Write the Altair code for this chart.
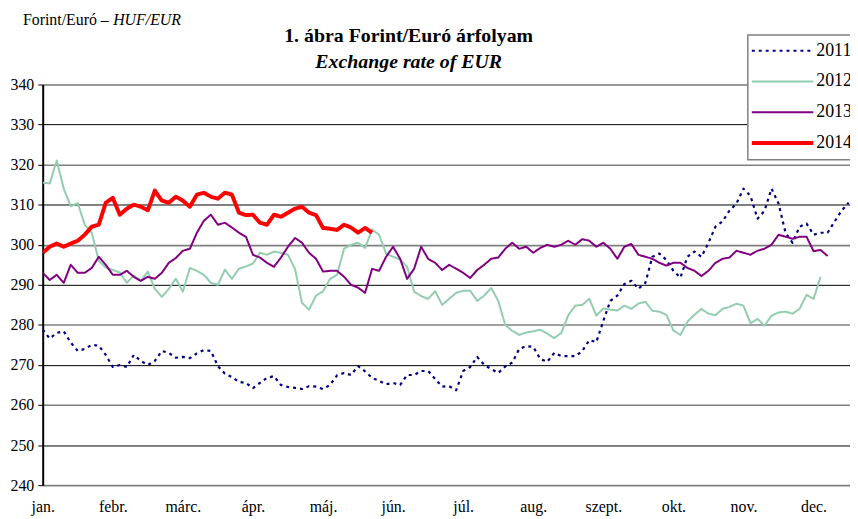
import json
import altair as alt
import pandas as pd

FONT = "Liberation Serif"

MONTHS = ["jan.", "febr.", "márc.", "ápr.", "máj.", "jún.", "júl.", "aug.",
          "szept.", "okt.", "nov.", "dec."]
STEP = 0.1  # months between samples
X_END = 11.52

eur_2011 = [278.8, 276.6, 278.0, 278.4, 275.6, 273.5, 274.0, 275.0, 274.8, 272.5,
            269.5, 270.0, 269.5, 272.5, 271.0, 270.0, 271.0, 273.5, 273.0, 271.8,
            272.0, 271.7, 272.9, 273.7, 273.5, 269.7, 267.8, 267.0, 265.8, 265.5,
            264.2, 265.5, 266.8, 267.2, 265.0, 264.5, 264.3, 264.0, 264.7, 264.6,
            264.0, 265.0, 267.4, 268.0, 267.5, 269.7, 268.4, 266.8, 266.0, 265.2,
            265.5, 265.0, 267.5, 267.5, 268.5, 268.5, 266.5, 264.6, 264.7, 263.7,
            268.5, 269.5, 272.0, 270.0, 269.0, 268.0, 269.6, 270.6, 274.0, 274.7,
            274.5, 271.5, 270.8, 273.0, 272.2, 272.2, 272.2, 273.5, 276.2, 275.7,
            281.0, 286.0, 287.3, 290.2, 291.0, 289.0, 290.5, 297.0, 297.8, 296.2,
            293.5, 291.8, 297.0, 298.3, 297.0, 300.5, 304.5, 305.8, 308.5, 310.3,
            314.0, 312.2, 306.5, 308.5, 314.0, 310.3, 303.0, 300.5, 304.5, 305.3,
            302.5, 303.0, 303.0, 305.8, 308.5, 310.5]

eur_2012 = [315.5, 315.3, 321.0, 314.0, 309.6, 310.4, 305.0, 303.0, 296.0, 294.3,
            293.7, 293.1, 290.5, 292.3, 291.0, 293.3, 289.0, 287.0, 289.0, 291.5,
            288.3, 294.2, 293.5, 292.5, 290.5, 290.0, 293.8, 291.5, 294.0, 294.6,
            295.3, 298.0, 297.5, 298.3, 298.0, 297.5, 294.0, 285.5, 283.8, 287.3,
            288.4, 291.5, 292.5, 299.0, 300.0, 300.5, 299.2, 303.8, 302.5, 297.8,
            297.0, 296.3, 294.5, 288.3, 287.2, 286.5, 288.4, 285.0, 286.5, 288.0,
            288.5, 288.5, 286.0, 287.3, 289.2, 286.0, 280.0, 278.5, 277.5, 278.1,
            278.4, 278.8, 277.8, 276.7, 278.0, 282.4, 284.8, 285.0, 286.5, 282.3,
            284.1, 283.8, 283.6, 284.8, 284.0, 285.3, 285.8, 283.5, 283.3, 282.5,
            278.6, 277.5, 280.8, 282.5, 284.0, 282.8, 282.4, 284.0, 284.5, 285.3,
            284.8, 280.4, 281.5, 279.8, 282.3, 283.1, 283.3, 282.8, 284.0, 287.5,
            286.5, 292.0]

eur_2013 = [293.0, 291.2, 292.5, 290.5, 295.0, 293.0, 293.0, 294.2, 297.0, 295.0,
            292.5, 292.5, 293.5, 292.0, 291.0, 292.0, 291.5, 293.0, 295.5, 296.7,
            298.5, 299.0, 303.0, 306.0, 307.5, 305.0, 305.5, 304.3, 303.0, 302.0,
            297.5, 296.8, 295.5, 294.5, 296.8, 299.5, 301.7, 300.5, 298.0, 296.5,
            293.3, 293.5, 293.5, 292.0, 290.0, 289.3, 288.0, 294.0, 293.5, 297.0,
            299.5, 296.5, 291.5, 294.0, 299.5, 296.5, 295.5, 293.7, 295.0, 294.0,
            293.0, 291.7, 293.7, 295.0, 296.5, 296.8, 299.0, 300.5, 299.0, 299.5,
            298.0, 299.2, 300.0, 299.5, 300.0, 301.0, 300.0, 301.4, 301.0, 299.5,
            300.5, 299.0, 296.5, 299.5, 300.2, 297.5, 297.0, 296.5, 295.5, 294.8,
            295.5, 295.5, 294.2, 293.5, 292.2, 293.5, 295.5, 296.5, 296.8, 298.5,
            298.0, 297.5, 298.5, 299.0, 300.0, 302.5, 302.0, 301.5, 302.0, 302.0,
            298.4, 298.7, 297.2]

eur_2014 = [298.0, 299.5, 300.3, 299.5, 300.3, 301.0, 302.5, 304.5, 305.0, 310.5,
            311.7, 307.5, 309.0, 310.0, 309.5, 308.6, 313.5, 311.0, 310.5, 312.0,
            311.0, 309.5, 312.5, 313.0, 312.0, 311.5, 313.0, 312.5, 308.0, 307.4,
            307.5, 305.5, 305.0, 307.5, 307.0, 308.0, 309.0, 309.5, 308.0, 307.4,
            304.2, 304.0, 303.7, 305.0, 304.3, 303.0, 304.2, 303.0]

YEARS = ["2011", "2012", "2013", "2014"]
SERIES = [eur_2011, eur_2012, eur_2013, eur_2014]
COLORS = ["#000080", "#93CDAF", "#800080", "#FF0000"]
WIDTHS = [2.2, 2, 2, 4]
DASHES = [[3, 4], [1, 0], [1, 0], [1, 0]]

Y_TICKS = list(range(240, 341, 10))

label_expr = json.dumps(MONTHS, ensure_ascii=False) + "[datum.value]"

x_enc = alt.X(
    "month:Q",
    scale=alt.Scale(domain=[0, X_END], nice=False, zero=False),
    axis=alt.Axis(values=list(range(12)), labelExpr=label_expr, grid=False,
                  domain=False, ticks=False, labelPadding=14, labelFontSize=16,
                  title=None, labelFlush=False, labelOverlap=False),
)
y_enc = alt.Y(
    "value:Q",
    scale=alt.Scale(domain=[240, 340], nice=False, zero=False),
    axis=alt.Axis(
        values=Y_TICKS, title=None, grid=True,
        gridColor={"condition": {"test": "datum.value % 20 === 0", "value": "#808080"},
                   "value": "#000000"},
        gridWidth={"condition": {"test": "datum.value % 20 === 0", "value": 1.6},
                   "value": 1},
        domainColor="#000000", domainWidth=2, tickColor="#000000",
        tickSize=5, labelPadding=4, labelFontSize=16,
    ),
)

layers = []
for yr, vals, col, w, d in zip(YEARS, SERIES, COLORS, WIDTHS, DASHES):
    df = pd.DataFrame({"month": [i * STEP for i in range(len(vals))], "value": vals})
    layers.append(
        alt.Chart(df).mark_line(color=col, strokeWidth=w, strokeDash=d,
                                strokeJoin="round", clip=True)
        .encode(x=x_enc, y=y_enc)
    )

one = pd.DataFrame({"k": [0]})

# legend box and entries
layers.append(
    alt.Chart(one).mark_rect(fill="white", stroke="#808080", strokeWidth=1.5)
    .encode(x=alt.value(711), x2=alt.value(840), y=alt.value(-50), y2=alt.value(76))
)
for i, (yr, col, w, d) in enumerate(zip(YEARS, COLORS, WIDTHS, DASHES)):
    yy = -34 + i * 31
    layers.append(
        alt.Chart(one).mark_rule(color=col, strokeWidth=w, strokeDash=d)
        .encode(x=alt.value(715), x2=alt.value(777), y=alt.value(yy))
    )
    layers.append(
        alt.Chart(pd.DataFrame({"t": [yr]})).mark_text(
            align="left", baseline="middle", font=FONT, fontSize=18, color="black")
        .encode(x=alt.value(780), y=alt.value(yy), text="t:N")
    )

# titles
layers.append(
    alt.Chart(pd.DataFrame({"t": ["1. ábra Forint/Euró árfolyam"]})).mark_text(
        align="center", baseline="middle", font=FONT, fontSize=20,
        fontWeight="bold", color="black")
    .encode(x=alt.value(369), y=alt.value(-49), text="t:N")
)
layers.append(
    alt.Chart(pd.DataFrame({"t": ["Exchange rate of EUR"]})).mark_text(
        align="center", baseline="middle", font=FONT, fontSize=20,
        fontWeight="bold", fontStyle="italic", color="black")
    .encode(x=alt.value(369), y=alt.value(-23), text="t:N")
)
layers.append(
    alt.Chart(pd.DataFrame({"t": ["Forint/Euró – "]})).mark_text(
        align="left", baseline="middle", font=FONT, fontSize=16, color="black")
    .encode(x=alt.value(-20), y=alt.value(-65), text="t:N")
)
layers.append(
    alt.Chart(pd.DataFrame({"t": ["HUF/EUR"]})).mark_text(
        align="left", baseline="middle", font=FONT, fontSize=16,
        fontStyle="italic", color="black")
    .encode(x=alt.value(71), y=alt.value(-65), text="t:N")
)

chart = (
    alt.layer(*layers)
    .properties(width=814, height=404, autosize="none",
                padding={"left": 35, "top": 75, "right": 0, "bottom": 32},
                background="white")
    .configure_view(stroke="#c0c0c0", strokeWidth=1)
    .configure_axis(labelFont=FONT, labelColor="black")
)

chart.save("out.html", embed_options={"renderer": "svg", "actions": False})
